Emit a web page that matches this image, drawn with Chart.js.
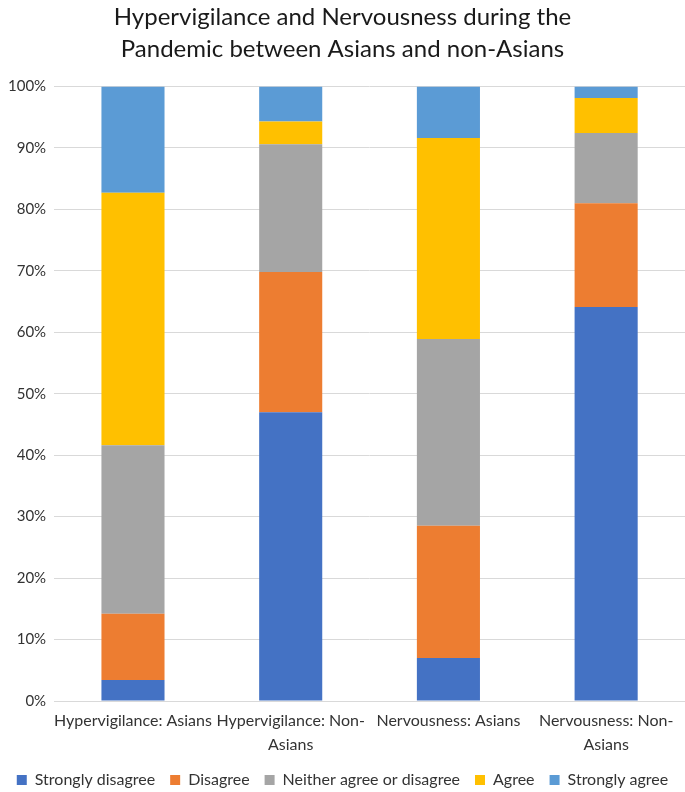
<!DOCTYPE html>
<html>
<head>
<meta charset="utf-8">
<script src="https://cdn.jsdelivr.net/npm/chart.js@4/dist/chart.umd.min.js"></script>
<style>
  html, body { margin: 0; padding: 0; background: #fff; }
  #wrap { width: 685px; height: 792px; position: relative; }
</style>
</head>
<body>
<div id="wrap"><canvas id="c"></canvas></div>
<script>
const categories = [
  ["Hypervigilance: Asians"],
  ["Hypervigilance: Non-", "Asians"],
  ["Nervousness: Asians"],
  ["Nervousness: Non-", "Asians"]
];
const stronglyDisagree = [3.4, 47.0, 7.0, 64.1];
const disagree = [10.8, 22.8, 21.5, 16.9];
const neither = [27.4, 20.8, 30.4, 11.4];
const agree = [41.1, 3.7, 32.7, 5.7];
const stronglyAgree = [17.3, 5.7, 8.4, 1.9];
const seriesNames = ["Strongly disagree", "Disagree", "Neither agree or disagree", "Agree", "Strongly agree"];
const seriesColors = ["#4472C4", "#ED7D31", "#A5A5A5", "#FFC000", "#5B9BD5"];
const titleLines = ["Hypervigilance and Nervousness during the", "Pandemic between Asians and non-Asians"];

const FONT = "Lato, 'Open Sans', sans-serif";
const seriesData = [stronglyDisagree, disagree, neither, agree, stronglyAgree];

new Chart(document.getElementById('c'), {
  type: 'bar',
  data: {
    labels: categories,
    datasets: seriesNames.map((n, i) => ({
      label: n,
      data: seriesData[i],
      backgroundColor: seriesColors[i],
      borderWidth: 0,
      categoryPercentage: 1.0,
      barPercentage: 0.4
    }))
  },
  options: {
    responsive: true,
    maintainAspectRatio: false,
    animation: false,
    layout: { padding: { left: 0, right: 0, top: 2, bottom: -6 } },
    plugins: {
      title: {
        display: true,
        text: titleLines,
        color: '#1a1a1a',
        font: { family: FONT, size: 24, weight: 'normal', lineHeight: 1.3 },
        padding: { top: 0, bottom: 22 }
      },
      legend: {
        position: 'bottom',
        labels: {
          color: '#333',
          font: { family: FONT, size: 16 },
          boxWidth: 10,
          boxHeight: 10,
          padding: 15
        }
      },
      tooltip: { enabled: false }
    },
    scales: {
      x: {
        stacked: true,
        grid: { display: false },
        border: { display: true, color: '#d9d9d9', width: 1 },
        ticks: { color: '#333', font: { family: FONT, size: 16, lineHeight: 1.5 }, maxRotation: 0, autoSkip: false, padding: 0 }
      },
      y: {
        stacked: true,
        min: 0,
        max: 100,
        grid: { color: '#d9d9d9', drawTicks: false },
        border: { display: false },
        ticks: {
          stepSize: 10,
          color: '#333',
          font: { family: FONT, size: 15 },
          padding: 8,
          callback: v => v + '%'
        }
      }
    }
  }
});
</script>
</body>
</html>
